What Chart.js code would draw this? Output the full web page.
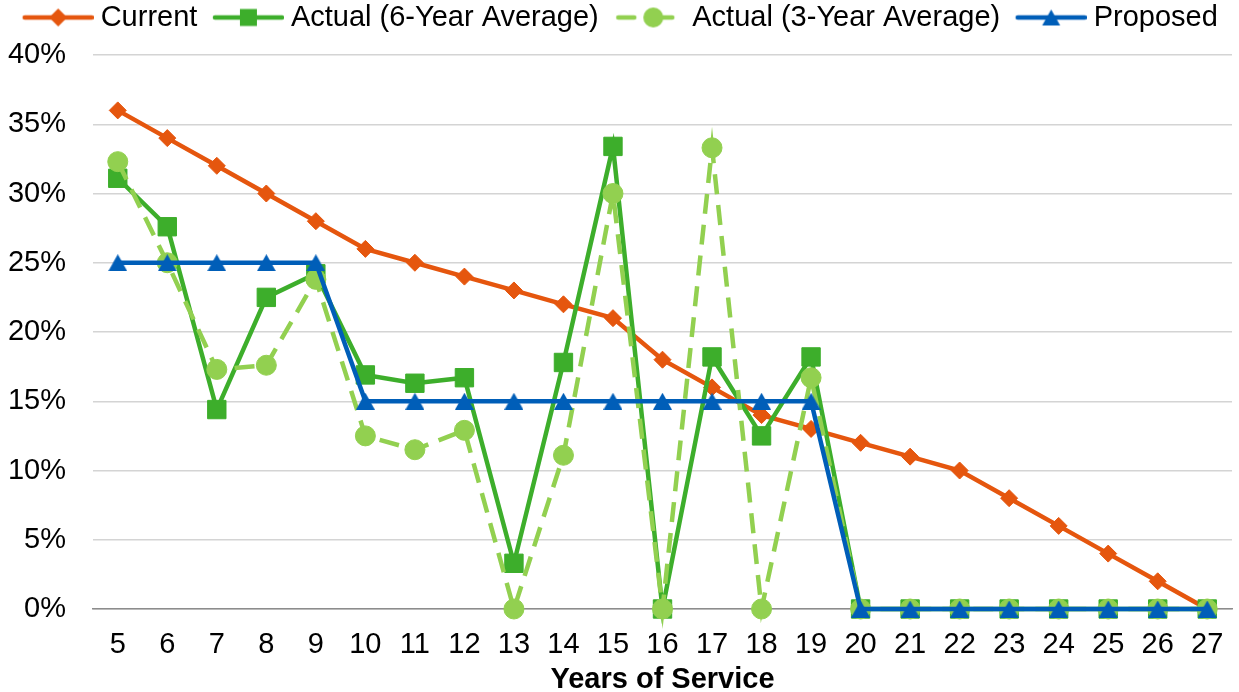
<!DOCTYPE html>
<html>
<head>
<meta charset="utf-8">
<script src="https://cdn.jsdelivr.net/npm/chart.js@4/dist/chart.umd.min.js"></script>
<style>
  html, body { margin: 0; padding: 0; background: #fff; }
  #wrap { width: 1239px; height: 692px; }
</style>
</head>
<body>
<div id="wrap"><canvas id="chart" width="1239" height="692"></canvas></div>
<script>
// values, in percent
const years = ["5","6","7","8","9","10","11","12","13","14","15","16","17","18","19","20","21","22","23","24","25","26","27"];
const current = [36,34,32,30,28,26,25,24,23,22,21,18,16,14,13,12,11,10,8,6,4,2,0];
const actual6 = [31.1,27.6,14.4,22.5,24.2,16.9,16.3,16.7,3.3,17.8,33.4,0,18.2,12.5,18.2,0,0,0,0,0,0,0,0];
const actual3 = [32.3,25,17.3,17.6,23.8,12.5,11.5,12.9,0,11.1,30,0,33.3,0,16.7,0,0,0,0,0,0,0,0];
const proposed = [25,25,25,25,25,15,15,15,15,15,15,15,15,15,15,0,0,0,0,0,0,0,0];
const yMax = 40;
const yStep = 5;

const ORANGE = "#E5560E";
const GREEN = "#3DAE2B";
const LIGHT_GREEN = "#92D050";
const BLUE = "#005EB8";

Chart.defaults.font.family = "'Liberation Sans', Arial, sans-serif";
Chart.defaults.font.size = 29;
Chart.defaults.color = "#000";

// triangle marker, centred in its box like the Excel one
function triangleMark(w, h, color){
  const c = document.createElement("canvas");
  c.width = w; c.height = h;
  const ctx = c.getContext("2d");
  ctx.fillStyle = color;
  ctx.beginPath();
  ctx.moveTo(w / 2, 0);
  ctx.lineTo(w, h);
  ctx.lineTo(0, h);
  ctx.closePath();
  ctx.fill();
  return c;
}

// legend sample: short line pieces with the marker on them
function legendIcon(color, pieces, marker, cx){
  const c = document.createElement("canvas");
  c.width = 87; c.height = 24;
  const ctx = c.getContext("2d");
  const cy = 12;
  ctx.strokeStyle = color;
  ctx.lineWidth = 4.5;
  ctx.lineCap = "round";
  pieces.forEach(([a, b])=>{
    ctx.beginPath();
    ctx.moveTo(a, cy);
    ctx.lineTo(b, cy);
    ctx.stroke();
  });
  ctx.fillStyle = color;
  ctx.beginPath();
  if(marker === "diamond"){
    ctx.moveTo(cx, cy - 9); ctx.lineTo(cx + 9, cy); ctx.lineTo(cx, cy + 9); ctx.lineTo(cx - 9, cy);
  }else if(marker === "square"){
    ctx.rect(cx - 8.5, cy - 8.5, 17, 17);
  }else if(marker === "circle"){
    ctx.arc(cx, cy, 10, 0, Math.PI * 2);
  }else{
    ctx.moveTo(cx, cy - 8); ctx.lineTo(cx + 9, cy + 8); ctx.lineTo(cx - 9, cy + 8);
  }
  ctx.closePath();
  ctx.fill();
  return c;
}

const icons = [
  legendIcon(ORANGE, [[18, 85]], "diamond", 51.5),
  legendIcon(GREEN, [[18, 85]], "square", 51.5),
  legendIcon(LIGHT_GREEN, [[20, 36], [63, 74]], "circle", 55),
  legendIcon(BLUE, [[18, 85]], "triangle", 51.5)
];

const series = [
  {label: "Current", data: current, color: ORANGE, style: "rectRot", radius: 8.5, order: 4},
  {label: "Actual (6-Year Average)", data: actual6, color: GREEN, style: "rect", radius: 13, order: 3},
  {label: "Actual (3-Year Average)", data: actual3, color: LIGHT_GREEN, style: "circle", radius: 10, order: 2, dash: [20, 11]},
  {label: "Proposed", data: proposed, color: BLUE, style: triangleMark(19, 17, BLUE), radius: 9, order: 1}
];

// one legend row, and a fixed gap between it and the plot
const legendRow = {
  id: "legendRow",
  beforeLayout(chart){
    const lg = chart.legend;
    if(lg && !lg._rowFit){
      const fit = lg.fit;
      lg.fit = function(){
        fit.call(this);
        this.lineWidths = [this.lineWidths.reduce((a, b)=>a + b, 0)];
        this.height = 59;
      };
      lg._rowFit = true;
    }
  }
};

const ctx = document.getElementById("chart").getContext("2d");
new Chart(ctx, {
  type: "line",
  plugins: [legendRow],
  data: {
    labels: years,
    datasets: series.map((s)=>({
      label: s.label,
      data: s.data,
      borderColor: s.color,
      backgroundColor: s.color,
      borderWidth: 4.5,
      borderDash: s.dash || [],
      pointStyle: s.style,
      pointRadius: s.radius,
      pointBackgroundColor: s.color,
      pointBorderColor: s.color,
      pointBorderWidth: 1,
      tension: 0,
      fill: false,
      clip: false,
      order: s.order
    }))
  },
  options: {
    responsive: false,
    animation: false,
    devicePixelRatio: 1,
    layout: {autoPadding: false, padding: {left: 0, right: 7, top: -4, bottom: -5}},
    plugins: {
      tooltip: {enabled: false},
      legend: {
        position: "top",
        labels: {
          usePointStyle: true,
          pointStyleWidth: 72,
          padding: 7,
          color: "#000",
          font: {size: 29},
          generateLabels: (chart)=>chart.data.datasets.map((ds, i)=>({
            text: ds.label,
            pointStyle: icons[i],
            fillStyle: "transparent",
            strokeStyle: "transparent",
            lineWidth: 0,
            hidden: false,
            fontColor: "#000",
            datasetIndex: i
          }))
        }
      }
    },
    scales: {
      x: {
        offset: true,
        grid: {display: false, drawTicks: false},
        border: {display: true, color: "#8c8c8c", width: 1.5},
        ticks: {padding: 19, maxRotation: 0, autoSkip: false, color: "#000"},
        title: {
          display: true,
          text: "Years of Service",
          color: "#000",
          font: {size: 29, weight: "bold"},
          padding: {top: 0, bottom: 0}
        },
        afterFit: (scale)=>{
          scale.height = 88;
          scale.paddingLeft = 0;
          scale.paddingRight = 0;
        }
      },
      y: {
        min: 0,
        max: yMax,
        ticks: {stepSize: yStep, padding: 27, color: "#000", callback: (v)=>v + "%"},
        grid: {color: "#d4d4d4", lineWidth: 1.5, drawTicks: false},
        border: {display: false},
        afterFit: (scale)=>{
          scale.width = 93;
          scale.paddingTop = 0;
          scale.paddingBottom = 0;
        }
      }
    }
  }
});
</script>
</body>
</html>
